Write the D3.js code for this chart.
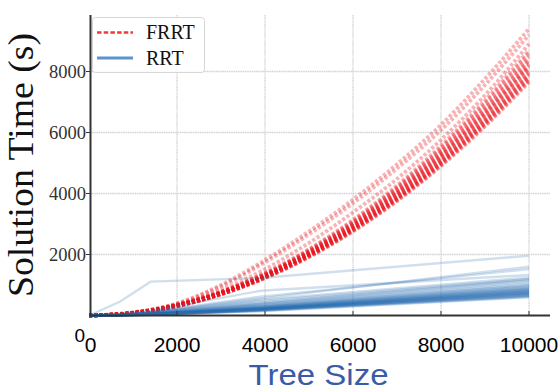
<!DOCTYPE html>
<html><head><meta charset="utf-8">
<script src="https://cdn.jsdelivr.net/npm/d3@7"></script>
<style>html,body{margin:0;padding:0;background:#fff;}svg{display:block;}</style>
</head><body>
<svg id="chart" width="558" height="391"></svg>
<script>
// ---- data ----
const frrtX = [0,1000,2000,3000,4000,5000,6000,7000,8000,9000,10000];
const frrtRuns = [
  [0,105,400,1000,1820,2760,3800,4960,6250,7760,9400],
  [0,98,385,950,1740,2660,3680,4820,6080,7560,9200],
  [0,92,365,840,1520,2380,3380,4480,5760,7220,8900],
  [0,88,350,785,1395,2180,3140,4270,5570,7050,8700],
  [0,86,345,775,1375,2150,3100,4210,5500,6970,8600],
  [0,85,340,765,1360,2125,3060,4170,5440,6890,8500],
  [0,84,335,757,1345,2100,3025,4115,5375,6800,8400],
  [0,84,334,752,1336,2088,3006,4092,5344,6764,8350],
  [0,83,330,743,1320,2063,2970,4043,5280,6683,8250],
  [0,82,328,738,1310,2050,2950,4020,5250,6640,8200],
  [0,82,326,734,1304,2038,2934,3994,5216,6602,8150],
  [0,81,324,729,1296,2025,2916,3969,5184,6561,8100],
  [0,80,320,720,1280,2000,2880,3920,5120,6480,8000],
  [0,80,318,716,1272,1988,2862,3896,5088,6440,7950],
  [0,79,316,711,1264,1975,2844,3871,5056,6399,7900],
  [0,78,314,706,1256,1962,2826,3846,5024,6358,7850],
  [0,78,312,702,1248,1950,2808,3822,4992,6318,7800],
  [0,78,310,698,1240,1938,2790,3798,4960,6278,7750],
  [0,77,308,693,1232,1925,2772,3773,4928,6237,7700],
  [0,77,306,689,1224,1913,2754,3749,4896,6197,7650]
];
const rrtX = [0,700,1400,3900,10000];
const rrtRuns = [
  [0,450,1110,1230,1960],
  [0,60,150,810,1330],
  [0,40,120,560,1600],
  [0,35,110,620,1520],
  [0,30,100,520,1250],
  [0,30,95,480,1200],
  [0,25,90,430,1180],
  [0,25,80,400,1150],
  [0,20,75,380,1100],
  [0,20,70,360,1050],
  [0,20,70,340,1000],
  [0,18,60,320,980],
  [0,18,60,300,950],
  [0,15,55,290,920],
  [0,15,50,280,900],
  [0,15,50,270,880],
  [0,14,48,260,860],
  [0,14,45,250,850],
  [0,12,45,240,830],
  [0,12,42,235,820],
  [0,12,40,230,800],
  [0,10,40,225,790],
  [0,10,38,220,780],
  [0,10,36,215,760],
  [0,10,35,210,750],
  [0,9,33,205,740],
  [0,9,32,200,730],
  [0,8,30,195,720],
  [0,8,30,190,700],
  [0,8,28,185,690],
  [0,7,26,180,680],
  [0,7,25,175,660],
  [0,6,24,170,650],
  [0,6,22,160,630],
  [0,5,20,150,610],
  [0,5,20,140,600]
];
const xTicks = [0,2000,4000,6000,8000,10000];
const yTicks = [2000,4000,6000,8000];
const seriesNames = ["FRRT","RRT"];
const xLabel = "Tree Size";
const yLabel = "Solution Time (s)";

// ---- drawing ----
const svg = d3.select("#chart");
const x = d3.scaleLinear().domain([0,10000]).range([89,529]);
const y = d3.scaleLinear().domain([0,10000]).range([315.5,10.5]);
const xEnd = 550, yTop = 15;

// grid
const grid = svg.append("g");
grid.selectAll("line.v").data(xTicks.filter(d=>d>0)).join("line")
  .attr("x1",d=>x(d)).attr("x2",d=>x(d)).attr("y1",yTop).attr("y2",y(0))
  .attr("stroke","#d2d2d2").attr("stroke-width",1.3).attr("stroke-dasharray","1.2,0.6");
grid.selectAll("line.h").data(yTicks).join("line")
  .attr("x1",90).attr("x2",xEnd).attr("y1",d=>y(d)).attr("y2",d=>y(d))
  .attr("stroke","#d2d2d2").attr("stroke-width",1.3).attr("stroke-dasharray","1.2,0.6");

const plot = svg.append("g");
const lineR = d3.line().x((d,i)=>x(frrtX[i])).y(d=>y(d)).curve(d3.curveMonotoneX);
plot.selectAll("path.frrt").data(frrtRuns).join("path")
  .attr("d",lineR).attr("fill","none").attr("stroke","#e8121c")
  .attr("stroke-width",3.8).attr("stroke-dasharray","3.2,2").attr("stroke-opacity",0.32);
const lineB = d3.line().x((d,i)=>x(rrtX[i])).y(d=>y(d));
plot.selectAll("path.rrt").data(rrtRuns).join("path")
  .attr("d",lineB).attr("fill","none").attr("stroke","#2a6cb0")
  .attr("stroke-width",2.4).attr("stroke-opacity",0.22);

// spines
svg.append("line").attr("x1",90.5).attr("x2",90.5).attr("y1",yTop).attr("y2",316.5)
  .attr("stroke","#333").attr("stroke-width",2);
svg.append("line").attr("x1",89.5).attr("x2",xEnd).attr("y1",315.5).attr("y2",315.5)
  .attr("stroke","#333").attr("stroke-width",2);

// ticks
svg.append("g").selectAll("line").data(xTicks.filter(d=>d>0)).join("line")
  .attr("x1",d=>x(d)).attr("x2",d=>x(d)).attr("y1",315).attr("y2",311)
  .attr("stroke","#333").attr("stroke-width",1);
svg.append("g").selectAll("line").data(yTicks).join("line")
  .attr("x1",86).attr("x2",90).attr("y1",d=>y(d)).attr("y2",d=>y(d))
  .attr("stroke","#333").attr("stroke-width",1);

// tick labels
svg.append("g").selectAll("text").data(xTicks).join("text")
  .attr("x",d=>x(d)+(d===0?1.5:0)).attr("y",352).attr("text-anchor","middle")
  .attr("font-family","Liberation Sans, Arial, sans-serif").attr("font-size",21).attr("fill","#000")
  .text(d=>d);
svg.append("g").selectAll("text").data(yTicks).join("text")
  .attr("x",86).attr("y",d=>y(d)).attr("dy","0.34em").attr("text-anchor","end")
  .attr("font-family","Liberation Serif, serif").attr("font-size",18.5).attr("fill","#333")
  .text(d=>d);
svg.append("text").attr("x",85).attr("y",342).attr("text-anchor","end")
  .attr("font-family","Liberation Sans, Arial, sans-serif").attr("font-size",19).attr("fill","#000")
  .text(0);

// axis labels
svg.append("text").attr("x",318.5).attr("y",385).attr("text-anchor","middle")
  .attr("font-family","Liberation Sans, Arial, sans-serif").attr("font-size",30).attr("fill","#3a5ca6")
  .attr("textLength",140).attr("lengthAdjust","spacingAndGlyphs")
  .text(xLabel);
svg.append("text").attr("transform","translate(33,165) rotate(-90)").attr("text-anchor","middle")
  .attr("font-family","Liberation Serif, serif").attr("font-size",35).attr("fill","#111")
  .attr("textLength",264).attr("lengthAdjust","spacingAndGlyphs")
  .text(yLabel);

// legend
const lg = svg.append("g");
lg.append("rect").attr("x",92.5).attr("y",17.5).attr("width",112).attr("height",55).attr("rx",3)
  .attr("fill","#fff").attr("fill-opacity",0.85).attr("stroke","#d6d6d6").attr("stroke-width",1);
const ly = [32.5,58];
lg.append("line").attr("x1",97).attr("x2",133).attr("y1",ly[0]).attr("y2",ly[0])
  .attr("stroke","#ee3b3b").attr("stroke-width",2.6).attr("stroke-dasharray","4.5,2.2");
lg.append("line").attr("x1",97).attr("x2",133).attr("y1",ly[1]).attr("y2",ly[1])
  .attr("stroke","#5b93cc").attr("stroke-width",3);
lg.selectAll("text").data(seriesNames).join("text")
  .attr("x",146).attr("y",(d,i)=>ly[i]).attr("dy","0.33em")
  .attr("font-family","Liberation Serif, serif").attr("font-size",20).attr("fill","#111")
  .text(d=>d);
</script>
</body></html>
